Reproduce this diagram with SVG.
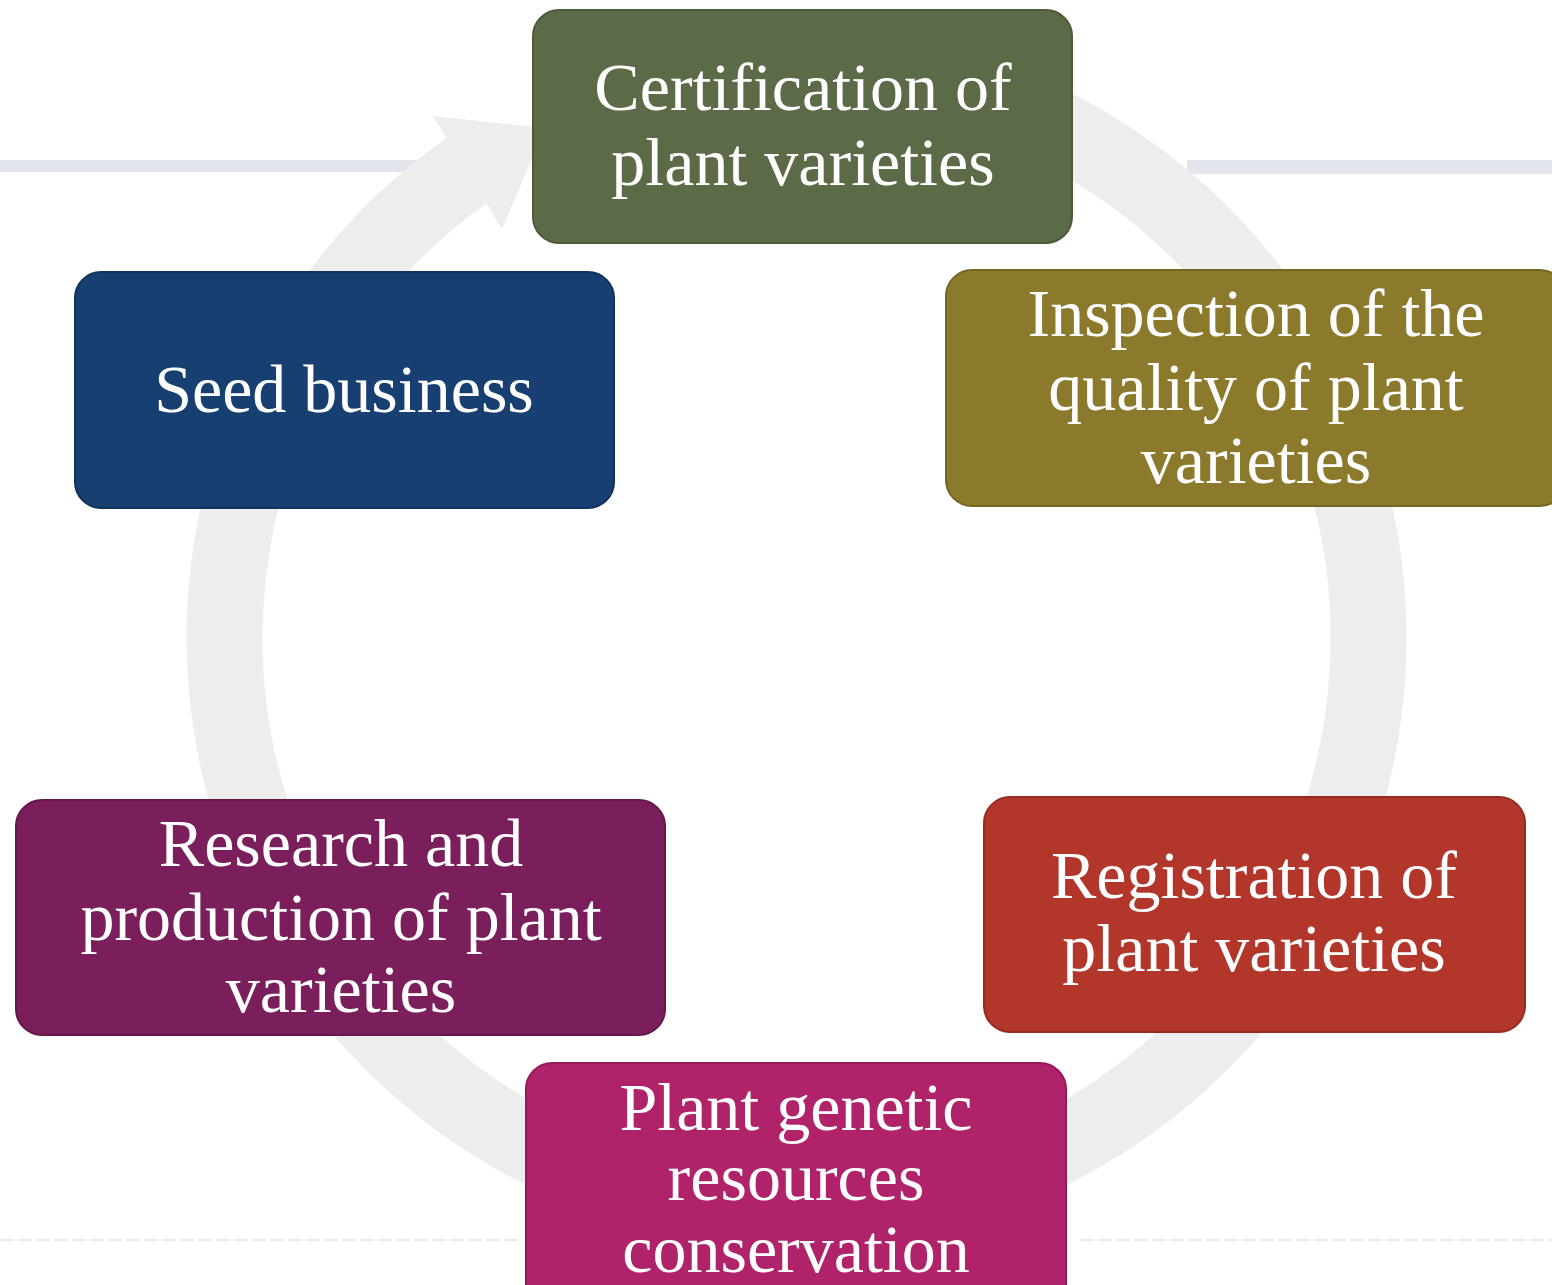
<svg xmlns="http://www.w3.org/2000/svg" width="1552" height="1285" viewBox="0 0 1552 1285">
<style>
.box{stroke-width:2}
.lbl{font-family:"Liberation Serif","Times New Roman",serif;font-size:68px;fill:#ffffff;text-anchor:middle}
.band{fill:#e3e5ec}
.scan{stroke:#d6d6d6;stroke-width:1.2;stroke-dasharray:14 4}
</style>
<rect width="1552" height="1285" fill="#ffffff"/>
<rect class="band" x="0" y="160" width="526" height="12"/>
<rect class="band" x="1187" y="160" width="365" height="14"/>
<line class="scan" x1="0" y1="1240" x2="522" y2="1240"/>
<line class="scan" x1="1080" y1="1240" x2="1552" y2="1240"/>
<g id="connectors">
<path d="M 945 85.5 A 572 572 0 1 1 469 169" fill="none" stroke="#ededed" stroke-width="76"/>
<polygon points="433,116 502,229 545,128" fill="#ededed"/>
</g>
<g id="n1">
<rect class="box" x="533" y="10" width="539" height="233" rx="26" fill="#5c6b47" stroke="#4c5a3a"/>
<text class="lbl" x="803" y="110">Certification of</text>
<text class="lbl" x="803" y="185">plant varieties</text>
</g>
<g id="n2">
<rect class="box" x="946" y="270" width="620" height="236" rx="26" fill="#8b7a2c" stroke="#756623"/>
<text class="lbl" x="1256" y="336">Inspection of the</text>
<text class="lbl" x="1256" y="410">quality of plant</text>
<text class="lbl" x="1256" y="483">varieties</text>
</g>
<g id="n3">
<rect class="box" x="984" y="797" width="541" height="235" rx="26" fill="#b3362a" stroke="#982b20"/>
<text class="lbl" x="1254" y="898">Registration of</text>
<text class="lbl" x="1254" y="971">plant varieties</text>
</g>
<g id="n4">
<rect class="box" x="526" y="1063" width="540" height="260" rx="26" fill="#b0226a" stroke="#951a59"/>
<text class="lbl" x="796" y="1130">Plant genetic</text>
<text class="lbl" x="796" y="1200">resources</text>
<text class="lbl" x="796" y="1272">conservation</text>
</g>
<g id="n5">
<rect class="box" x="16" y="800" width="649" height="235" rx="26" fill="#7b1f5c" stroke="#65174b"/>
<text class="lbl" x="341" y="866">Research and</text>
<text class="lbl" x="341" y="940">production of plant</text>
<text class="lbl" x="341" y="1012">varieties</text>
</g>
<g id="n6">
<rect class="box" x="75" y="272" width="539" height="236" rx="26" fill="#173f71" stroke="#10325d"/>
<text class="lbl" x="344" y="412">Seed business</text>
</g>
</svg>
